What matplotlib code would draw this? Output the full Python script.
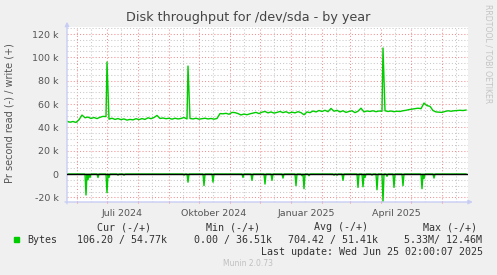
import pandas as pd
import matplotlib
matplotlib.use('Agg')
from matplotlib import pyplot as plt
from matplotlib.ticker import FuncFormatter, MultipleLocator

# ---- data (values in k bytes/s, days counted from START) ----
START = '2024-05-22'
END_DAY = 401

write_base = [45.2, 44.4, 45.0, 44.2, 46.5, 50.5, 48.2, 48.8, 47.6, 48.4,
              47.5, 48.6, 49.4, 49.2, 47.0, 47.8, 46.8, 47.5, 46.6, 47.2,
              46.2, 46.8, 46.4, 47.4, 46.6, 47.5, 46.8, 48.2, 47.4, 48.4,
              50.2, 47.6, 48.0, 47.4, 47.8, 47.0, 47.8, 47.2, 47.6, 48.4,
              47.2, 47.6, 47.2, 47.8, 47.0, 47.4, 47.8, 47.2, 47.6, 47.0,
              47.6, 51.8, 51.6, 52.0, 51.2, 52.8, 52.6, 51.8, 50.6, 51.4,
              50.8, 51.6, 52.2, 52.8, 51.8, 53.0, 53.6, 52.4, 53.2, 52.2,
              52.8, 53.6, 52.6, 53.4, 52.2, 53.0, 52.4, 53.4, 52.6, 50.8,
              53.2, 52.6, 54.0, 53.2, 54.4, 53.6, 54.6, 53.4, 56.2, 53.8,
              54.6, 53.2, 54.2, 52.8, 53.6, 54.2, 52.6, 53.8, 56.4, 53.2,
              54.0, 53.6, 54.2, 53.4, 54.0, 53.8, 54.2, 53.6, 54.0, 53.4,
              53.8, 53.6, 54.2, 54.6, 55.2, 55.6, 56.0, 56.4, 56.0, 60.8,
              58.6, 58.0, 54.4, 53.2, 53.0, 52.8, 53.6, 54.2, 53.8, 54.2,
              54.4, 54.6, 54.4, 54.8]
write_step = 3

write_spike_days = [40, 121, 316]
write_spike_vals = [96.0, 92.5, 108.0]

read_spike_days = [19, 21, 23, 31, 40, 42, 51, 57, 117, 121, 137, 146, 176,
                   185, 198, 205, 216, 229, 235, 237, 242, 267, 270, 276,
                   291, 296, 298, 305, 310, 316, 320, 327, 336, 355, 357, 367]
read_spike_vals = [-18.0, -5.0, -3.0, -3.0, -16.0, -3.0, -1.0, -1.0, -1.0,
                   -7.0, -10.0, -7.0, -3.0, -5.5, -8.6, -5.5, -3.5, -10.0,
                   -1.5, -12.6, -1.5, -1.0, -1.0, -5.5, -11.5, -11.0, -3.0,
                   -1.0, -13.5, -24.0, -2.0, -11.5, -10.0, -12.6, -4.0, -3.5]

legend_head = ['Cur (-/+)', 'Min (-/+)', 'Avg (-/+)', 'Max (-/+)']
legend_vals = ['106.20 / 54.77k', '0.00 / 36.51k', '704.42 / 51.41k',
               '5.33M/ 12.46M']

GREEN = '#00cc00'
AXIS = '#c8cdf4'


def build_series():
    start = pd.Timestamp(START)
    days = [i * write_step for i in range(len(write_base))]
    w = pd.Series(write_base, index=days)
    w = pd.concat([w, pd.Series(write_spike_vals, index=write_spike_days)])
    w = w.sort_index()
    w.index = start + pd.to_timedelta(w.index, unit='D')

    r = pd.Series(0.0, index=range(0, 400))
    r[read_spike_days] = read_spike_vals
    r.index = start + pd.to_timedelta(r.index, unit='D')
    return w * 1000, r * 1000


def main():
    write, read = build_series()
    start = pd.Timestamp(START)
    end = start + pd.Timedelta(days=END_DAY)

    fig = plt.figure(figsize=(4.97, 2.75), dpi=100, facecolor='#f0f0f0')
    ax = fig.add_axes([67 / 497, 1 - 202 / 275, 401 / 497, 175 / 275])
    ax.set_facecolor('white')
    ax.set_xlim(start, end)
    ax.set_ylim(-24000, 126000)

    # grid: red every 20k / month, gray every 5k / mid-month
    ax.yaxis.set_major_locator(MultipleLocator(20000))
    ax.yaxis.set_minor_locator(MultipleLocator(5000))
    ax.grid(True, which='major', axis='y', color='#f09090',
            linestyle=(0, (1, 2)), linewidth=0.75)
    ax.grid(True, which='minor', axis='y', color='#c8c8c8',
            linestyle=(0, (1, 2)), linewidth=0.75)
    months = pd.date_range('2024-06-01', end, freq='MS')
    for m in months:
        ax.axvline(m, color='#f09090', linestyle=(0, (1, 2)), lw=0.75,
                   zorder=0.5)
        mid = m + pd.Timedelta(days=14)
        if mid < end:
            ax.axvline(mid, color='#c8c8c8', linestyle=(0, (1, 2)), lw=0.75,
                       zorder=0.5)
    ax.axvline(months[0] - pd.Timedelta(days=17), color='#c8c8c8',
               linestyle=(0, (1, 2)), lw=0.75, zorder=0.5)

    ax.plot(write.index, write.values, color=GREEN, lw=1.0, zorder=3)
    ax.plot(read.index, read.values, color=GREEN, lw=1.0, zorder=3)
    ax.axhline(0, color='black', lw=1.0, zorder=4)

    # y labels
    ax.yaxis.set_major_formatter(FuncFormatter(
        lambda v, p: '0' if v == 0 else '%d k' % (v / 1000)))
    ax.tick_params(axis='y', which='both', length=0, pad=6,
                   labelsize=6.8, labelcolor='#555555')

    # x ticks: months (marks) and quarter labels at mid-month
    ax.set_xticks(months)
    ax.xaxis.set_major_formatter(FuncFormatter(lambda v, p: ''))
    labels = pd.to_datetime(['2024-07-16', '2024-10-16',
                             '2025-01-16', '2025-04-16'])
    names = ['Juli 2024', 'Oktober 2024', 'Januar 2025', 'April 2025']
    ax.set_xticks(labels, minor=True)
    ax.set_xticklabels(names, minor=True)
    ax.tick_params(axis='x', which='major', length=2, color='#f09090',
                   direction='inout')
    ax.tick_params(axis='x', which='minor', length=0, pad=5,
                   labelsize=6.8, labelcolor='#555555')

    for s in ax.spines.values():
        s.set_visible(False)
    # axis arrows
    ax.annotate('', xy=(0, 1.03), xytext=(0, -0.01), xycoords='axes fraction',
                arrowprops=dict(arrowstyle='-|>', color=AXIS, lw=1,
                                mutation_scale=6, shrinkA=0, shrinkB=0),
                annotation_clip=False)
    ax.annotate('', xy=(1.012, 0), xytext=(-0.005, 0), xycoords='axes fraction',
                arrowprops=dict(arrowstyle='-|>', color=AXIS, lw=1,
                                mutation_scale=6, shrinkA=0, shrinkB=0),
                annotation_clip=False)

    fig.text(248 / 497, 1 - 18 / 275, 'Disk throughput for /dev/sda - by year',
             ha='center', va='center', fontsize=9.2, color='#444444')
    fig.text(10 / 497, 1 - 113 / 275, 'Pr second read (-) / write (+)',
             rotation=90, ha='center', va='center', fontsize=7,
             color='#555555')
    fig.text(488 / 497, 1 - 54 / 275, 'RRDTOOL / TOBI OETIKER', rotation=270,
             ha='center', va='center', fontsize=5.6, color='#c4c4c4')

    mono = dict(family='DejaVu Sans Mono', fontsize=7.2, color='#333333',
                va='center')
    heads_x = [124.5, 233.5, 341.5, 450]
    vals_x = [122, 233.5, 332.5, 443.5]
    for hx, h in zip(heads_x, legend_head):
        fig.text(hx / 497, 1 - 227 / 275, h, ha='center', **mono)
    fig.patches.append(plt.Rectangle((14 / 497, 1 - 242 / 275), 5 / 497,
                                     5 / 275, transform=fig.transFigure,
                                     color=GREEN, figure=fig))
    fig.text(27 / 497, 1 - 240 / 275, 'Bytes', ha='left', **mono)
    for vx, v in zip(vals_x, legend_vals):
        fig.text(vx / 497, 1 - 240 / 275, v, ha='center', **mono)
    fig.text(483 / 497, 1 - 252 / 275,
             'Last update: Wed Jun 25 02:00:07 2025', ha='right', **mono)
    fig.text(248 / 497, 1 - 264 / 275, 'Munin 2.0.73', ha='center',
             va='center', fontsize=5.5, color='#c0c0c0')

    fig.savefig('out.png', dpi=100, facecolor=fig.get_facecolor())


if __name__ == '__main__':
    main()
